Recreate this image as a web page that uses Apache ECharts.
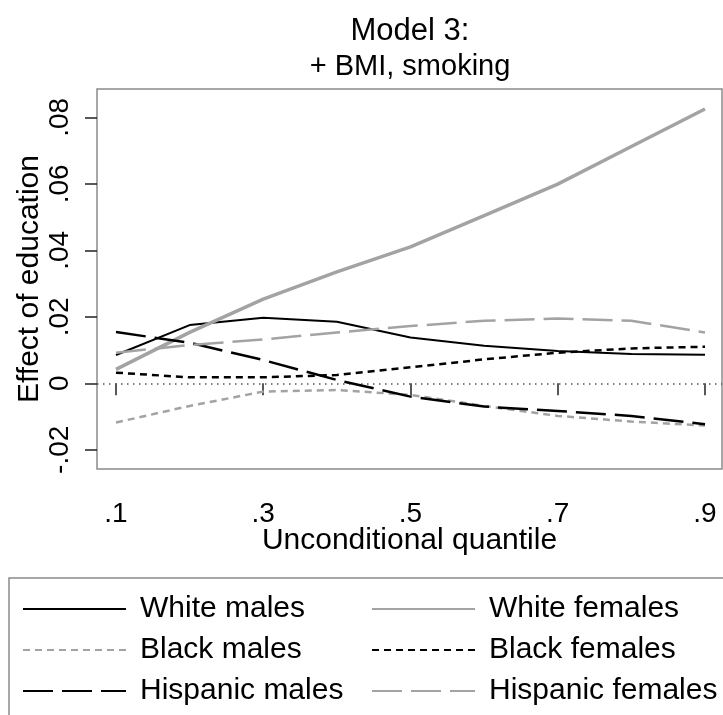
<!DOCTYPE html>
<html>
<head>
<meta charset="utf-8">
<script src="https://cdn.jsdelivr.net/npm/echarts@6/dist/echarts.min.js"></script>
<style>
  html, body { margin: 0; padding: 0; background: #fff; }
  #chart { width: 723px; height: 715px; }
</style>
</head>
<body>
<div id="chart"></div>
<script>
// Quantiles at which the education effect was estimated
const quantiles = [0.1, 0.2, 0.3, 0.4, 0.5, 0.6, 0.7, 0.8, 0.9];

// Estimated effect of education, by group
const whiteMales      = [0.0085, 0.0175, 0.0197, 0.0185, 0.0138, 0.0113, 0.0097, 0.0088, 0.0086];
const whiteFemales    = [0.0042, 0.0153, 0.0253, 0.0335, 0.0410, 0.0504, 0.0599, 0.0712, 0.0825];
const blackMales      = [-0.0118, -0.0068, -0.0025, -0.0020, -0.0035, -0.0068, -0.0098, -0.0115, -0.0127];
const blackFemales    = [0.0032, 0.0018, 0.0018, 0.0025, 0.0048, 0.0072, 0.0092, 0.0105, 0.0110];
const hispanicMales   = [0.0154, 0.0122, 0.0070, 0.0010, -0.0040, -0.0070, -0.0083, -0.0098, -0.0123];
const hispanicFemales = [0.0092, 0.0115, 0.0132, 0.0153, 0.0172, 0.0188, 0.0195, 0.0188, 0.0153];

// Tick positions
const xTicks = [0.1, 0.3, 0.5, 0.7, 0.9];
const yTicks = [-0.02, 0, 0.02, 0.04, 0.06, 0.08];

const FONT = 'Liberation Sans, Arial, Helvetica, sans-serif';
const BLACK = '#000000';
const GRAY = '#a3a3a3';

// ".5" style labels without the leading zero
function stataNum(v) {
  if (Math.abs(v) < 1e-12) return '0';
  const s = String(Math.abs(+v.toFixed(4))).replace(/^0/, '');
  return (v < 0 ? '-' : '') + s;
}

function pairs(ys) {
  return quantiles.map((q, i) => [q, ys[i]]);
}

const seriesDefs = [
  { name: 'White males',      data: whiteMales,      color: BLACK, width: 2,   type: 'solid' },
  { name: 'White females',    data: whiteFemales,    color: GRAY,  width: 3.5, type: 'solid' },
  { name: 'Black males',      data: blackMales,      color: GRAY,  width: 2.5, type: [7, 5] },
  { name: 'Black females',    data: blackFemales,    color: BLACK, width: 2.5, type: [7, 5] },
  { name: 'Hispanic males',   data: hispanicMales,   color: BLACK, width: 2.5, type: [30, 9] },
  { name: 'Hispanic females', data: hispanicFemales, color: GRAY,  width: 2.5, type: [30, 9] }
];

const series = seriesDefs.map((d, i) => {
  const s = {
    name: d.name,
    type: 'line',
    data: pairs(d.data),
    symbol: 'none',
    smooth: false,
    color: d.color,
    lineStyle: { color: d.color, width: d.width, type: d.type, cap: 'butt' },
    z: 3
  };
  if (i === 0) {
    s.markLine = {
      silent: true,
      symbol: ['none', 'none'],
      label: { show: false },
      lineStyle: { color: '#555', width: 1.5, type: [1.5, 4.5] },
      data: [{ yAxis: 0 }],
      z: 1
    };
  }
  return s;
});

const chart = echarts.init(document.getElementById('chart'), null, { renderer: 'canvas' });

// Two-column key: lines only, no point markers
const legendCommon = {
  orient: 'vertical',
  top: 594,
  padding: 0,
  itemWidth: 103,
  itemHeight: 14,
  itemGap: 11,
  selectedMode: false,
  itemStyle: { opacity: 0 },
  textStyle: { fontFamily: FONT, fontSize: 30, color: '#000', padding: [0, 0, 0, 9] }
};

chart.setOption({
  animation: false,
  backgroundColor: '#fff',
  textStyle: { fontFamily: FONT },
  grid: {
    left: 97, top: 89, right: 1, bottom: 246,
    show: true, borderColor: '#8a8a8a', borderWidth: 1.5, backgroundColor: '#fff'
  },
  xAxis: {
    type: 'value',
    min: 0.0742, max: 0.9231,
    axisLine: { show: false },
    splitLine: { show: false },
    axisTick: {
      show: true, inside: false, length: 12,
      customValues: xTicks,
      lineStyle: { color: '#222', width: 1.5 }
    },
    axisLabel: {
      customValues: xTicks,
      formatter: stataNum,
      fontFamily: FONT, fontSize: 28, color: '#000', margin: 31
    },
    name: 'Unconditional quantile',
    nameLocation: 'middle',
    nameMoveOverlap: false,
    nameGap: 57,
    nameTextStyle: { fontFamily: FONT, fontSize: 30, color: '#000' }
  },
  yAxis: {
    type: 'value',
    min: -0.02577, max: 0.0885,
    axisLine: { show: false },
    splitLine: { show: false },
    axisTick: {
      show: true, inside: false, length: 12,
      customValues: yTicks,
      lineStyle: { color: '#222', width: 1.5 }
    },
    axisLabel: {
      customValues: yTicks,
      formatter: stataNum,
      rotate: 90,
      fontFamily: FONT, fontSize: 28, color: '#000', margin: 23
    },
    name: 'Effect of education',
    nameLocation: 'middle',
    nameMoveOverlap: false,
    nameRotate: 90,
    nameGap: 52,
    nameTextStyle: { fontFamily: FONT, fontSize: 30, color: '#000' }
  },
  legend: [
    Object.assign({}, legendCommon, { left: 22, data: ['White males', 'Black males', 'Hispanic males'] }),
    Object.assign({}, legendCommon, { left: 371, data: ['White females', 'Black females', 'Hispanic females'] })
  ],
  graphic: [
    {
      type: 'text', x: 410, y: 31, silent: true,
      style: { text: 'Model 3:', fontFamily: FONT, fontSize: 31, fill: '#000', align: 'center', verticalAlign: 'middle' }
    },
    {
      type: 'text', x: 410, y: 67, silent: true,
      style: { text: '+ BMI, smoking', fontFamily: FONT, fontSize: 29, fill: '#000', align: 'center', verticalAlign: 'middle' }
    },
    {
      type: 'rect', silent: true, z: -1,
      shape: { x: 9, y: 578, width: 760, height: 200 },
      style: { fill: 'none', stroke: '#8a8a8a', lineWidth: 1.5 }
    }
  ],
  series: series
});
</script>
</body>
</html>
